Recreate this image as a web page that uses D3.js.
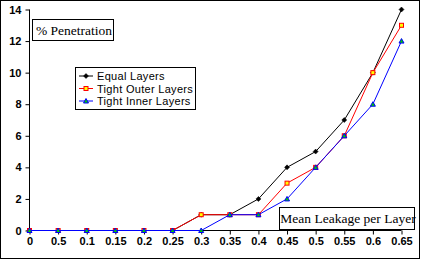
<!DOCTYPE html>
<html><head><meta charset="utf-8">
<script src="https://cdn.jsdelivr.net/npm/d3@7"></script>
<style>body{margin:0;background:#fff}svg{display:block}</style>
</head><body>
<script>
const categories = ["0","0.5","0.1","0.15","0.2","0.25","0.3","0.35","0.4","0.45","0.5","0.55","0.6","0.65"];
const equalLayers = [0,0,0,0,0,0,1,1,2,4,5,7,10,14];
const tightOuter  = [0,0,0,0,0,0,1,1,1,3,4,6,10,13];
const tightInner  = [0,0,0,0,0,0,0,1,1,2,4,6,8,12];
const yTicks = [0,2,4,6,8,10,12,14];

const W=421,H=261;
const svg=d3.select("body").append("svg").attr("width",W).attr("height",H);
svg.append("rect").attr("x",0.5).attr("y",0.5).attr("width",419).attr("height",258).attr("fill","#fff").attr("stroke","#000");

const x=d3.scalePoint().domain(d3.range(categories.length)).range([29.5,401.5]);
const y=d3.scaleLinear().domain([0,14]).range([230.5,9.5]);

const yAxis=svg.append("g").attr("transform","translate(29.5,0)")
  .call(d3.axisLeft(y).tickValues(yTicks).tickSize(4).tickPadding(4).tickFormat(d3.format("d")));
const xAxis=svg.append("g").attr("transform","translate(0,230.5)")
  .call(d3.axisBottom(x).tickSize(4).tickPadding(3).tickFormat(i=>categories[i]));
[yAxis,xAxis].forEach(g=>{
  g.select(".domain").attr("stroke","#000");
  g.selectAll("line").attr("stroke","#000");
  g.selectAll("text").attr("fill","#000").style("font-family","Arial, 'Liberation Sans', sans-serif").style("font-weight","bold").style("font-size","11px");
});
yAxis.select(".domain").attr("d","M0,9.5V230.5");
xAxis.select(".domain").attr("d","M29.5,0H401.5");

const series=[
  {name:"Equal Layers",data:equalLayers,color:"#000",fill:"#000",shape:"diamond"},
  {name:"Tight Outer Layers",data:tightOuter,color:"#ff0000",fill:"#ffff00",shape:"square"},
  {name:"Tight Inner Layers",data:tightInner,color:"#0000ff",fill:"#00cc00",shape:"triangle"}
];
const line=d3.line().x((d,i)=>x(i)).y(d=>y(d));
function marker(g,s,cx,cy){
  if(s.shape==="diamond"){
    g.append("path").attr("d",`M${cx},${cy-2.5}L${cx+2.5},${cy}L${cx},${cy+2.5}L${cx-2.5},${cy}Z`).attr("fill","#000").attr("stroke","#000").attr("stroke-width",0.5);
  } else if(s.shape==="square"){
    g.append("rect").attr("x",cx-2).attr("y",cy-2).attr("width",4).attr("height",4).attr("fill",s.fill).attr("stroke",s.color).attr("stroke-width",1);
  } else {
    g.append("path").attr("d",`M${cx},${cy-2.5}L${cx+2.5},${cy+2}L${cx-2.5},${cy+2}Z`).attr("fill",s.fill).attr("stroke",s.color).attr("stroke-width",1);
  }
}
series.forEach(s=>{
  const g=svg.append("g");
  g.append("path").datum(s.data).attr("d",line).attr("fill","none").attr("stroke",s.color).attr("stroke-width",1);
  s.data.forEach((d,i)=>marker(g,s,x(i),y(d)));
});

// title box
svg.append("rect").attr("x",32.5).attr("y",19.5).attr("width",81).attr("height",21).attr("fill","#fff").attr("stroke","#000");
svg.append("text").attr("x",74).attr("y",35).attr("text-anchor","middle")
  .style("font-family","'Liberation Serif', 'Times New Roman', serif").style("font-size","13.5px").text("% Penetration");

// x title box
svg.append("rect").attr("x",279.5).attr("y",207.5).attr("width",135).attr("height",22).attr("fill","#fff").attr("stroke","#000");
svg.append("text").attr("x",348).attr("y",223).attr("text-anchor","middle")
  .style("font-family","'Liberation Serif', 'Times New Roman', serif").style("font-size","13.5px").text("Mean Leakage per Layer");

// legend
const lg=svg.append("g");
lg.append("rect").attr("x",75.5).attr("y",67.5).attr("width",120).attr("height",42).attr("fill","#fff").attr("stroke","#000");
series.forEach((s,i)=>{
  const cy=76+i*12.5;
  lg.append("line").attr("x1",79).attr("x2",93).attr("y1",cy).attr("y2",cy).attr("stroke",s.color);
  marker(lg,s,86,cy);
  lg.append("text").attr("x",97).attr("y",cy+4)
    .style("font-family","Arial, 'Liberation Sans', sans-serif").style("font-size","11px").style("letter-spacing","0.3px").text(s.name);
});
</script>
</body></html>
